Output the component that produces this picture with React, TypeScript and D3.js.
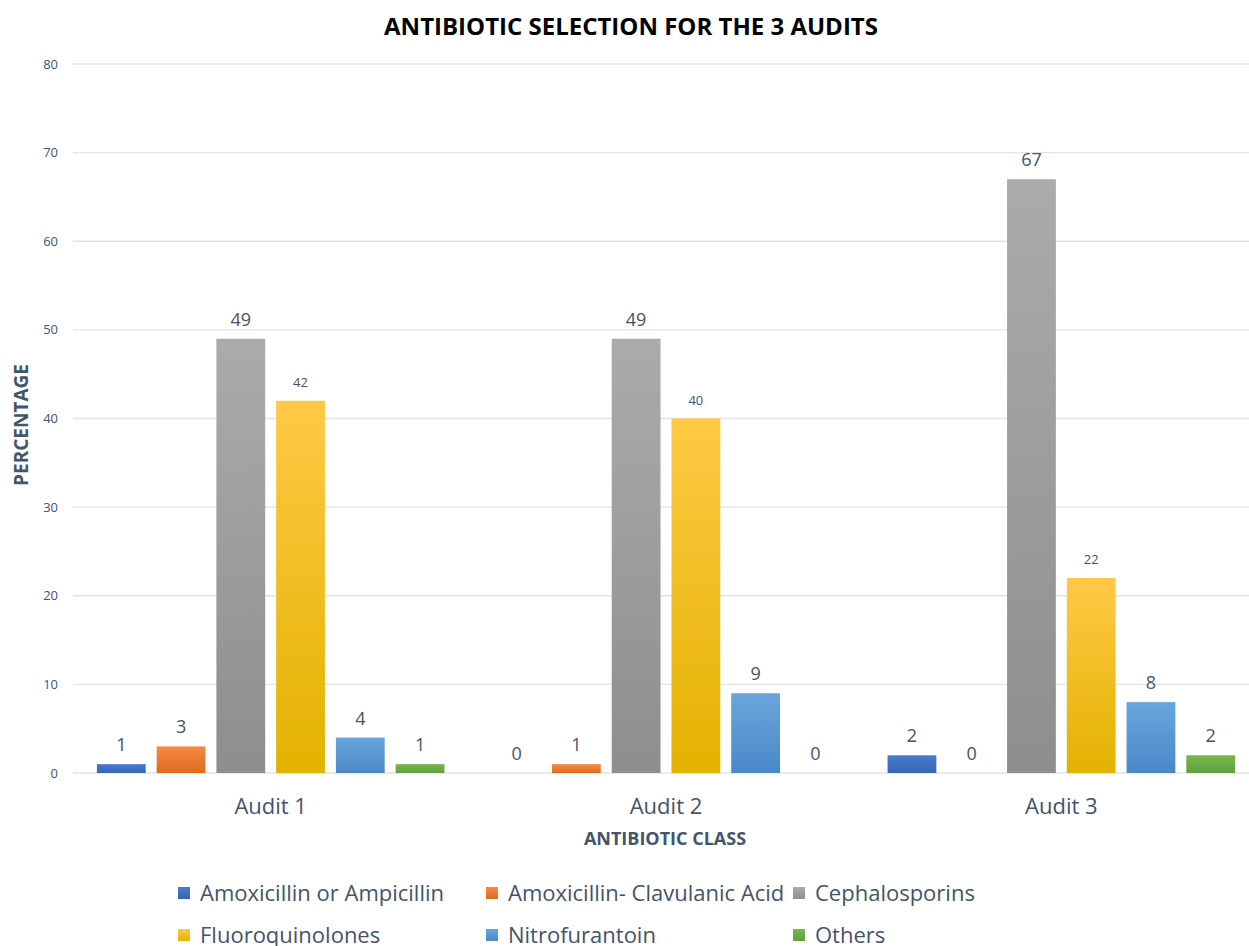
import React from "react";
import * as d3 from "d3";

const categories = ["Audit 1", "Audit 2", "Audit 3"];
const seriesNames = [
  "Amoxicillin or Ampicillin",
  "Amoxicillin- Clavulanic Acid",
  "Cephalosporins",
  "Fluoroquinolones",
  "Nitrofurantoin",
  "Others",
];
const amoxAmp = [1, 0, 2];
const amoxClav = [3, 1, 0];
const cephalosporins = [49, 49, 67];
const fluoroquinolones = [42, 40, 22];
const nitrofurantoin = [4, 9, 8];
const others = [1, 0, 2];
const yTicks = [0, 10, 20, 30, 40, 50, 60, 70, 80];

const seriesValues = [amoxAmp, amoxClav, cephalosporins, fluoroquinolones, nitrofurantoin, others];
const colorsTop = ["#4a7bd0", "#f58a45", "#ababab", "#ffc945", "#6aa5dc", "#78b64f"];
const colorsBottom = ["#3864b5", "#e06a1c", "#8e8e8e", "#e3b200", "#4a88c8", "#62a03c"];
const labelSizes = [18, 18, 18, 13, 18, 18];

const W = 1249;
const H = 946;
const TEXT = "#44546A";

export default function App() {
  const left = 73;
  const plotRight = 1259;
  const top = 64;
  const bottom = 773;
  const x0 = d3.scaleBand<string>().domain(categories).range([left, plotRight]).paddingInner(0).paddingOuter(0);
  const y = d3.scaleLinear().domain([0, 80]).range([bottom, top]);
  const x1 = d3
    .scaleBand<number>()
    .domain(d3.range(seriesNames.length))
    .range([0, x0.bandwidth()])
    .paddingInner(0.1833)
    .paddingOuter(0.4);

  const legendCols = [178, 486, 793];
  const legendRows = [893, 935];

  return (
    <svg width={W} height={H} style={{ position: "absolute", left: 0, top: 0, background: "#fff" }} fontFamily="'Open Sans', sans-serif">
      <defs>
        {seriesNames.map((_, i) => (
          <linearGradient key={i} id={`g${i}`} x1="0" y1="0" x2="0" y2="1">
            <stop offset="0%" stopColor={colorsTop[i]} />
            <stop offset="100%" stopColor={colorsBottom[i]} />
          </linearGradient>
        ))}
      </defs>
      <rect width={W} height={H} fill="#fff" />
      <text x={631} y={35} textAnchor="middle" fontSize={24} fontWeight="bold" fill="#000">
        ANTIBIOTIC SELECTION FOR THE 3 AUDITS
      </text>
      {yTicks.map((t) => (
        <g key={t}>
          <line x1={left} x2={W} y1={y(t)} y2={y(t)} stroke="#e3e3e3" strokeWidth={1.3} />
          <text x={58} y={y(t)} dy="0.35em" textAnchor="end" fontSize={13} fill={TEXT}>
            {t}
          </text>
        </g>
      ))}
      {categories.map((c, ci) => (
        <g key={c} transform={`translate(${x0(c)},0)`}>
          {seriesValues.map((vals, si) => {
            const v = vals[ci];
            const bx = x1(si)!;
            const bw = x1.bandwidth();
            const lblY = y(v) - (labelSizes[si] === 13 ? 14 : 13);
            return (
              <g key={si}>
                {v > 0 && <rect x={bx} y={y(v)} width={bw} height={y(0) - y(v)} fill={`url(#g${si})`} />}
                <text x={bx + bw / 2} y={lblY} textAnchor="middle" fontSize={labelSizes[si]} fill={TEXT}>
                  {v}
                </text>
              </g>
            );
          })}
          <text x={x0.bandwidth() / 2} y={814} textAnchor="middle" fontSize={22} fill={TEXT}>
            {c}
          </text>
        </g>
      ))}
      <text x={665} y={845} textAnchor="middle" fontSize={18} fontWeight="bold" fill={TEXT}>
        ANTIBIOTIC CLASS
      </text>
      <text transform="translate(28,425) rotate(-90)" textAnchor="middle" fontSize={19} fontWeight="bold" fill={TEXT}>
        PERCENTAGE
      </text>
      {seriesNames.map((n, i) => {
        const lx = legendCols[i % 3];
        const ly = legendRows[Math.floor(i / 3)];
        return (
          <g key={n}>
            <rect x={lx} y={ly - 6} width={12} height={12} fill={`url(#g${i})`} />
            <text x={lx + 22} y={ly} dy="0.35em" fontSize={22} fill={TEXT}>
              {n}
            </text>
          </g>
        );
      })}
    </svg>
  );
}
